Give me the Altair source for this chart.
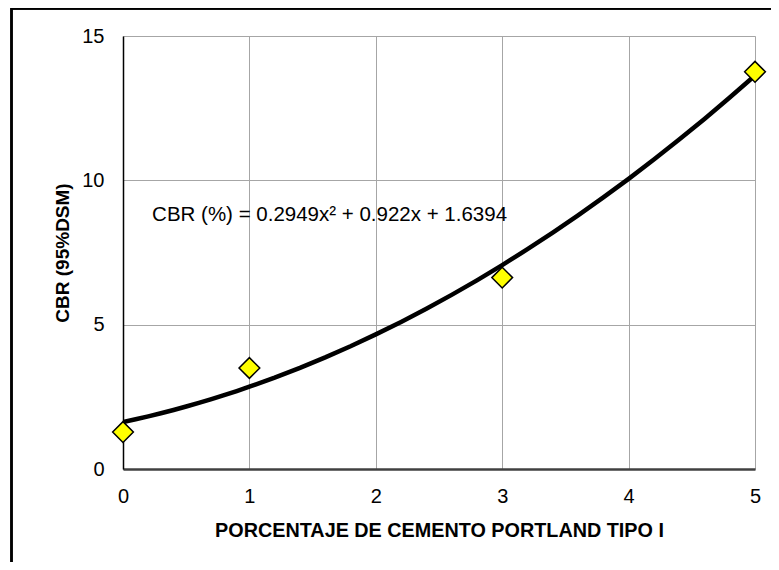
import altair as alt
import pandas as pd

# Data
cement_pct = [0, 1, 3, 5]
cbr_values = [1.28, 3.50, 6.63, 13.76]

x_ticks = [0, 1, 2, 3, 4, 5]
y_ticks = [0, 5, 10, 15]

equation_text = ["CBR (%) = 0.2949x\u00b2 + 0.922x + 1.6394"]
equation_x = [0.23]
equation_y = [8.59]

df = pd.DataFrame({"x": cement_pct, "y": cbr_values})
eq_df = pd.DataFrame({"x": equation_x, "y": equation_y, "t": equation_text})

FONT = "Liberation Sans"

x_enc = alt.X(
    "x:Q",
    scale=alt.Scale(domain=[0, 5], nice=False),
    axis=alt.Axis(
        values=x_ticks,
        format="d",
        labelFlush=False,
        title="PORCENTAJE DE CEMENTO PORTLAND TIPO I",
        grid=True,
        gridColor="#a6a6a6",
        gridWidth=1,
        ticks=False,
        domainColor="#404040",
        domainWidth=2.5,
        labelFont=FONT,
        labelFontSize=20,
        labelColor="#000000",
        labelPadding=17,
        titleFont=FONT,
        titleFontSize=19.8,
        titleFontWeight="bold",
        titleColor="#000000",
        titleBaseline="alphabetic",
        titleY=67,
    ),
)
y_enc = alt.Y(
    "y:Q",
    scale=alt.Scale(domain=[0, 15], nice=False),
    axis=alt.Axis(
        values=y_ticks,
        format="d",
        labelFlush=False,
        title="CBR (95%DSM)",
        grid=True,
        gridColor="#a6a6a6",
        gridWidth=1,
        ticks=False,
        domainColor="#000000",
        domainWidth=1.5,
        labelFont=FONT,
        labelFontSize=20,
        labelColor="#000000",
        labelPadding=19,
        titleFont=FONT,
        titleFontSize=19,
        titleFontWeight="bold",
        titleColor="#000000",
        titleAngle=270,
        titleAlign="center",
        titleBaseline="alphabetic",
        titleX=-55,
        titleY=216.5,
    ),
)

base = alt.Chart(df)

trend = base.transform_regression(
    "x", "y", method="poly", order=2, extent=[0, 5]
).mark_line(color="#000000", strokeWidth=4.5, clip=True).encode(x=x_enc, y=y_enc)

points = base.mark_point(
    shape="diamond", size=430, filled=True, fill="#ffff00",
    stroke="#000000", strokeWidth=1.5, opacity=1
).encode(x="x:Q", y="y:Q")

label = alt.Chart(eq_df).mark_text(
    align="left", baseline="alphabetic", font=FONT, fontSize=20.5, color="#000000"
).encode(x="x:Q", y="y:Q", text="t:N")

frame = alt.Chart(df).mark_rect(
    fillOpacity=0, stroke="#000000", strokeWidth=2, clip=False
).encode(
    x=alt.value(-111.5), x2=alt.value(720),
    y=alt.value(-27.5), y2=alt.value(600),
)

chart = alt.layer(frame, trend, points, label).properties(
    width=632,
    height=433,
    autosize=alt.AutoSizeParams(type="none"),
    padding={"left": 115, "top": 28, "right": 16, "bottom": 93},
).configure_view(
    stroke="#808080", strokeWidth=1.5
).configure(background="#ffffff")

chart.save("out.html", embed_options={"renderer": "svg", "actions": False})
